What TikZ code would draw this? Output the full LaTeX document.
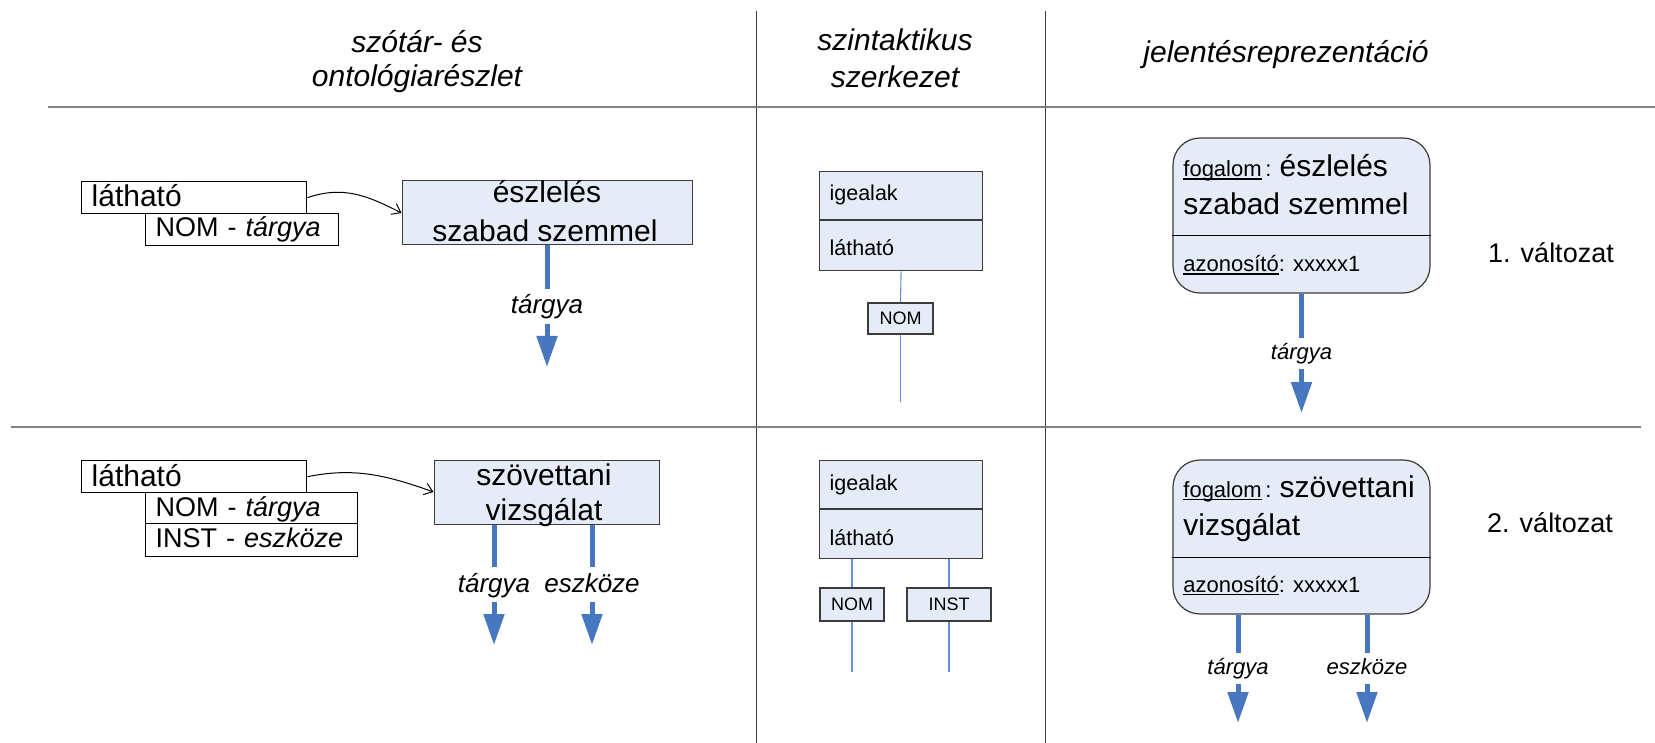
\documentclass[tikz,border=0pt]{standalone}
\usepackage{fontspec}
\setmainfont{Liberation Sans}
\usetikzlibrary{arrows.meta}
\definecolor{boxfill}{RGB}{230,236,247}
\definecolor{relblue}{RGB}{71,119,193}
\definecolor{synblue}{RGB}{100,145,215}
\definecolor{rulegray}{RGB}{128,128,128}
\definecolor{sepgray}{RGB}{60,60,60}
\newcommand\myul[1]{\setbox0\hbox{#1}\rlap{\rule[-1.3pt]{\wd0}{0.55pt}}\box0}
\tikzset{
  fsz/.style={font=\fontsize{#1}{#1}\selectfont},
  hdr/.style={font=\fontsize{15}{15}\selectfont\itshape, inner sep=0pt},
  txt/.style={inner sep=0pt, anchor=base west},
  lexbox/.style={draw=black, line width=0.7pt, fill=white, inner ysep=0pt, inner xsep=5pt, align=left, anchor=north west},
  conbox/.style={draw=sepgray, line width=0.5pt, fill=boxfill, inner sep=0pt},
  synpart/.style={draw=sepgray, line width=0.6pt, fill=boxfill, inner ysep=0pt, inner xsep=5pt, text width=71.5pt, align=left, anchor=north west, font=\fontsize{10.75}{12}\selectfont},
  casebox/.style={draw=sepgray, line width=0.6pt, fill=boxfill, inner sep=0pt, font=\fontsize{9}{10}\selectfont},
  synline/.style={draw=synblue, line width=0.55pt},
  relarrow/.style={draw=relblue, line width=2.5pt, -{Triangle[length=15.5pt,width=10pt]}},
  rellabel/.style={fill=white, inner xsep=1pt, inner ysep=2.2pt, font=\fontsize{#1}{#1}\selectfont\itshape, text height=0.78*#1 pt, text depth=0.22*#1 pt},
  repbox/.style={draw=sepgray, line width=0.6pt, fill=boxfill, rounded corners=13.5pt, inner sep=0pt, minimum width=128.5pt},
  curvearrow/.style={draw=black, line width=0.5pt, -{Straight Barb[length=4pt,width=6pt]}},
  divline/.style={draw=black, line width=0.5pt},
}
\begin{document}
\begin{tikzpicture}[x=0.5pt, y=-0.5pt]
\useasboundingbox (0,0) rectangle (1655,743);

% grid lines
\draw[sepgray, line width=0.5pt] (756,11) -- (756,743);
\draw[sepgray, line width=0.5pt] (1045,11) -- (1045,743);
\draw[rulegray, line width=1.25pt] (48,107) -- (1655,107);
\draw[rulegray, line width=1.25pt] (11,427) -- (1641,427);

% headers
\node[hdr] (h1a) at (417,42) {szótár- és};
\node[hdr] (h1b) at (417,79) {ontológiarészlet};
\node[hdr] (h2a) at (895,40) {szintaktikus};
\node[hdr] (h2b) at (895,77) {szerkezet};
\node[hdr] (h3) at (1286,55) {jelentésreprezentáció};

% ---------- row 1, left ----------
\node[lexbox, text width=102.5pt, text height=12.5pt, text depth=3.5pt, fsz=15] (lat1) at (81,181) {látható};
\node[lexbox, text width=86.5pt, text height=11.5pt, text depth=4.5pt, fsz=13.5] (nom1l) at (145,213) {NOM - \textit{tárgya}};
\node[conbox, minimum width=145pt, minimum height=32pt] (esz1) at (547,213) {};
\node[txt, anchor=base, fsz=15] (esz1a) at (547,203) {észlelés};
\node[txt, anchor=base, fsz=15] (esz1b) at (545,242) {szabad szemmel};
\draw[curvearrow] (lat1.east) .. controls +(35,-12) and +(-35,-18) .. (esz1.west);
\coordinate (t1) at (547,367);
\draw[relarrow] (esz1.south) -- (t1) node[midway, rellabel=13] (l1) {tárgya};

% ---------- row 1, middle ----------
\node[synpart, minimum height=24pt, text height=14.5pt, text depth=9.5pt] (ig1) at (819,171) {igealak};
\node[synpart, minimum height=25pt, text height=17.5pt, text depth=7.5pt] (lat1m) at (ig1.south west) {látható};
\node[casebox, minimum width=32.5pt, minimum height=15.5pt] (nom1) at (900.5,318.5) {NOM};
\coordinate (e1) at (900.5,402);
\draw[synline] (lat1m.south) -- (nom1.north);
\draw[synline] (nom1.south) -- (e1);

% ---------- row 1, right ----------
\node[repbox, minimum height=77.5pt] (rep1) at (1301.5,215.5) {};
\coordinate (d1) at (1301.5,236);
\draw[divline] (rep1.west |- d1) -- (rep1.east |- d1);
\node[txt, fsz=11] (f1) at (1183,177) {\myul{fogalom}\,: {\fontsize{15}{15}\selectfont észlelés}};
\node[txt, fsz=15] (f1b) at (1183,215) {szabad szemmel};
\node[txt, fsz=11] (a1) at (1183,272) {\myul{azonosító}: xxxxx1};
\coordinate (rt1) at (1301.5,413);
\draw[relarrow] (rep1.south) -- (rt1) node[midway, rellabel=11] (rl1) {tárgya};
\node[fsz=13.5, inner sep=0pt] (v1) at (1551,253) {1. változat};

% ---------- row 2, left ----------
\node[lexbox, text width=102.5pt, text height=13pt, text depth=3pt, fsz=15] (lat2) at (81,460) {látható};
\node[lexbox, text width=96pt, text height=12pt, text depth=3.5pt, fsz=13.5] (nom2l) at (145,492) {NOM - \textit{tárgya}};
\node[lexbox, text width=96pt, text height=12pt, text depth=4.5pt, fsz=13.5] (inst2l) at (145,523) {INST - \textit{eszköze}};
\node[conbox, minimum width=112.5pt, minimum height=32pt] (sz2) at (546.5,492) {};
\node[txt, anchor=base, fsz=15] (sz2a) at (544,485) {szövettani};
\node[txt, anchor=base, fsz=15] (sz2b) at (544,520) {vizsgálat};
\draw[curvearrow] (lat2.east) .. controls +(45,-9) and +(-50,-18) .. (sz2.west);
\coordinate (t2a) at (494,645);
\coordinate (t2b) at (592,645);
\draw[relarrow] (t2a |- sz2.south) -- (t2a) node[midway, rellabel=13] (l2a) {tárgya};
\draw[relarrow] (t2b |- sz2.south) -- (t2b) node[midway, rellabel=13] (l2b) {eszköze};

% ---------- row 2, middle ----------
\node[synpart, minimum height=24pt, text height=15pt, text depth=9pt] (ig2) at (819,460) {igealak};
\node[synpart, minimum height=24.5pt, text height=18pt, text depth=6.5pt] (lat2m) at (ig2.south west) {látható};
\node[casebox, minimum width=32pt, minimum height=16.5pt] (nom2) at (852,604.5) {NOM};
\node[casebox, minimum width=42pt, minimum height=16.5pt] (inst2) at (949,604.5) {INST};
\coordinate (e2a) at (852,672);
\coordinate (e2b) at (949,672);
\draw[synline] (nom2.north |- lat2m.south) -- (nom2.north);
\draw[synline] (nom2.south) -- (e2a);
\draw[synline] (inst2.north |- lat2m.south) -- (inst2.north);
\draw[synline] (inst2.south) -- (e2b);

% ---------- row 2, right ----------
\node[repbox, minimum height=77pt] (rep2) at (1301.5,537) {};
\coordinate (d2) at (1301.5,557);
\draw[divline] (rep2.west |- d2) -- (rep2.east |- d2);
\node[txt, fsz=11] (f2) at (1183,497) {\myul{fogalom}\,: {\fontsize{15}{15}\selectfont szövettani}};
\node[txt, fsz=15] (f2b) at (1183,535) {vizsgálat};
\node[txt, fsz=11] (a2) at (1183,592) {\myul{azonosító}: xxxxx1};
\coordinate (rt2a) at (1238,723);
\coordinate (rt2b) at (1367,723);
\draw[relarrow] (rt2a |- rep2.south) -- (rt2a) node[midway, rellabel=11] (rl2a) {tárgya};
\draw[relarrow] (rt2b |- rep2.south) -- (rt2b) node[midway, rellabel=11] (rl2b) {eszköze};
\node[fsz=13.5, inner sep=0pt] (v2) at (1550,523) {2. változat};
\end{tikzpicture}
\end{document}
